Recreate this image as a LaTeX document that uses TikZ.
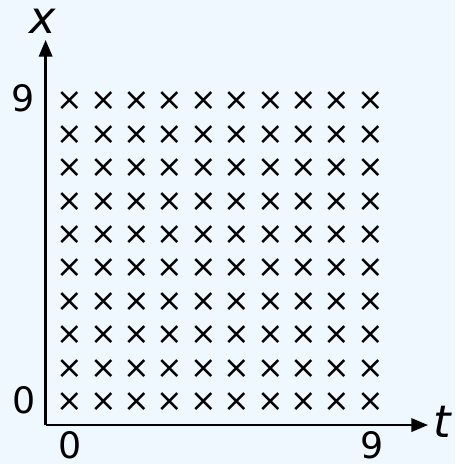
\documentclass[tikz,border=0pt]{standalone}
\usepackage{fontspec}
\setmainfont{DejaVu Sans}
\usetikzlibrary{arrows.meta, positioning}
\definecolor{bgblue}{HTML}{F0F8FF}

\begin{document}
\begin{tikzpicture}[
    axis/.style={-{Triangle[length=5mm, width=4mm]}, line width=2.1pt},
    gridpt/.style={font=\fontsize{27}{27}\selectfont, inner sep=0pt},
    ticklabel/.style={font=\fontsize{31}{31}\selectfont, inner sep=0pt},
    axlabel/.style={font=\fontsize{38}{38}\selectfont\itshape, inner sep=0pt},
]
    \fill[bgblue] (-2.096,-1.856) rectangle (11.527,12.036);
    \useasboundingbox (-2.096,-1.856) rectangle (11.527,12.036);

    % grid points
    \foreach \i in {0,...,9}
        \foreach \j in {0,...,9}
            \node[gridpt] (m-\i-\j) at (\i,\j) {×};

    % axes
    \coordinate (origin) at (-0.73,-0.69);
    \coordinate (xtop) at (-0.73,10.84);
    \coordinate (tend) at (10.72,-0.69);
    \draw[axis] (origin) -- (xtop);
    \draw[axis] (origin) -- (tend);

    \node[axlabel] (xlab) at (-0.81,11.41) {x};
    \node[axlabel] (tlab) at (11.14,-0.6) {t};

    % ticks
    \node[ticklabel] (x9) at (-1.41,9.08) {9};
    \node[ticklabel] (x0) at (-1.38,0.06) {0};
    \node[ticklabel] (t0) at (0,-1.28) {0};
    \node[ticklabel] (t9) at (9.04,-1.28) {9};
\end{tikzpicture}
\end{document}
